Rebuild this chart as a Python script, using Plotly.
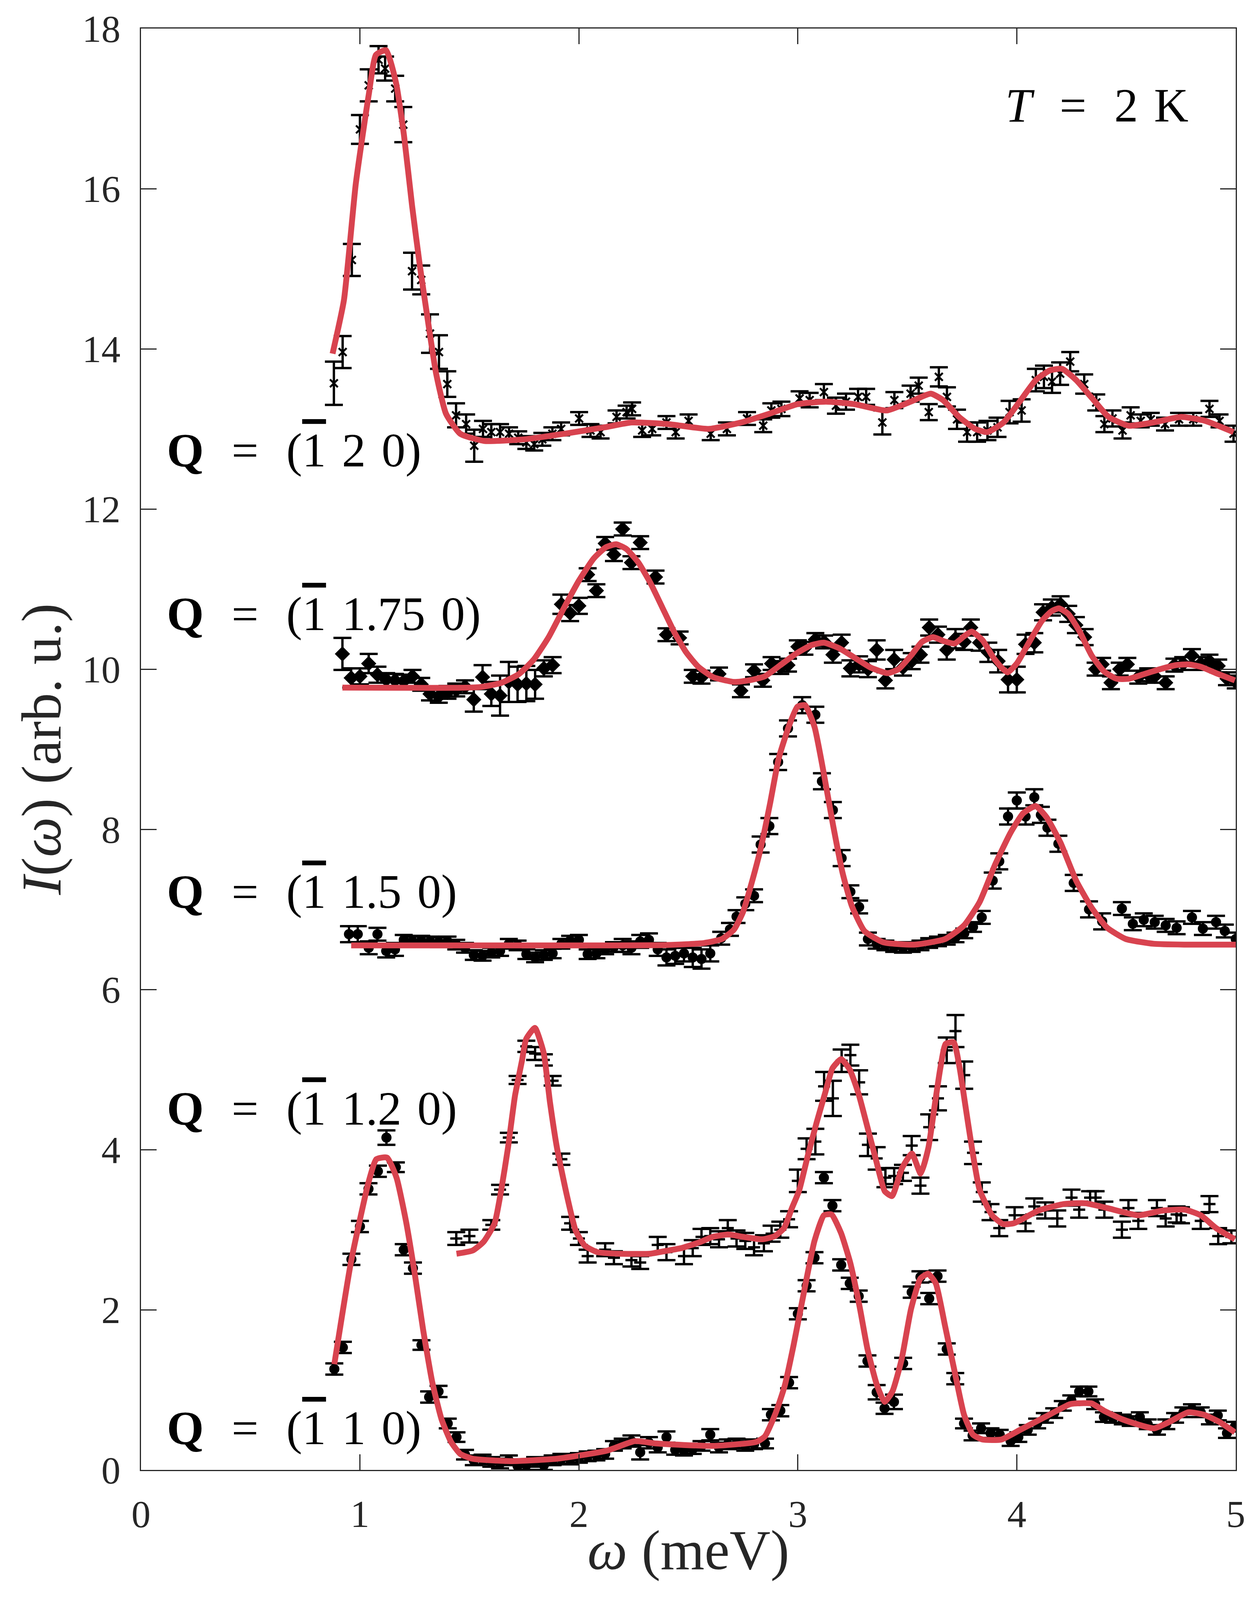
import plotly.graph_objects as go

# (omega meV, intensity, error)
q20_pts = [
    (0.881, 13.57, 0.27), (0.921, 13.96, 0.20), (0.963, 15.11, 0.20), (1.000, 16.74, 0.18),
    (1.040, 17.29, 0.20), (1.085, 17.61, 0.17), (1.115, 17.50, 0.15), (1.161, 17.25, 0.16),
    (1.198, 16.80, 0.22), (1.238, 14.97, 0.23), (1.280, 14.86, 0.18), (1.320, 14.19, 0.24),
    (1.361, 13.96, 0.21), (1.399, 13.56, 0.16), (1.439, 13.17, 0.15), (1.485, 13.06, 0.12),
    (1.522, 12.79, 0.20), (1.562, 13.00, 0.10), (1.600, 12.96, 0.10), (1.640, 12.96, 0.10),
    (1.681, 12.94, 0.08), (1.723, 12.89, 0.08), (1.760, 12.83, 0.08), (1.796, 12.81, 0.08),
    (1.833, 12.87, 0.08), (1.879, 12.94, 0.08), (1.919, 13.00, 0.08), (2.001, 13.13, 0.08),
    (2.053, 12.98, 0.08), (2.099, 12.96, 0.08), (2.172, 13.15, 0.08), (2.218, 13.21, 0.08),
    (2.243, 13.25, 0.08), (2.289, 12.98, 0.08), (2.335, 13.00, 0.08), (2.400, 13.08, 0.08),
    (2.442, 12.96, 0.08), (2.501, 13.10, 0.08), (2.602, 12.94, 0.08), (2.676, 13.00, 0.08),
    (2.768, 13.13, 0.08), (2.842, 13.04, 0.08), (2.879, 13.23, 0.09), (2.925, 13.25, 0.09),
    (3.008, 13.38, 0.09), (3.054, 13.36, 0.09), (3.119, 13.46, 0.10), (3.174, 13.29, 0.10),
    (3.220, 13.34, 0.10), (3.275, 13.40, 0.10), (3.312, 13.40, 0.10), (3.386, 13.08, 0.15),
    (3.441, 13.36, 0.10), (3.515, 13.44, 0.10), (3.552, 13.54, 0.10), (3.598, 13.21, 0.10),
    (3.644, 13.65, 0.12), (3.681, 13.40, 0.12), (3.727, 13.12, 0.12), (3.773, 12.96, 0.12),
    (3.819, 12.96, 0.12), (3.866, 12.98, 0.12), (3.912, 13.02, 0.12), (3.967, 13.21, 0.14),
    (4.022, 13.23, 0.14), (4.087, 13.61, 0.14), (4.124, 13.65, 0.14), (4.161, 13.59, 0.14),
    (4.198, 13.69, 0.14), (4.244, 13.84, 0.12), (4.308, 13.56, 0.12), (4.363, 13.33, 0.10),
    (4.400, 13.06, 0.10), (4.437, 13.13, 0.10), (4.483, 12.98, 0.10), (4.520, 13.17, 0.10),
    (4.566, 13.10, 0.08), (4.612, 13.12, 0.08), (4.677, 13.06, 0.08), (4.741, 13.12, 0.08),
    (4.806, 13.12, 0.08), (4.880, 13.25, 0.10), (4.926, 13.10, 0.08), (4.990, 12.94, 0.10),
]
q20_fit = [
    (0.875, 13.94), (0.927, 14.61), (0.981, 16.06), (1.040, 17.17), (1.073, 17.67), (1.119, 17.73),
    (1.165, 17.32), (1.201, 16.67), (1.238, 15.79), (1.274, 15.03), (1.311, 14.34), (1.348, 13.69),
    (1.393, 13.19), (1.458, 12.94), (1.567, 12.85), (1.751, 12.87), (1.934, 12.94), (2.117, 13.02),
    (2.241, 13.08), (2.409, 13.06), (2.593, 13.00), (2.741, 13.08), (2.870, 13.19), (3.000, 13.31),
    (3.128, 13.34), (3.257, 13.31), (3.405, 13.23), (3.515, 13.34), (3.607, 13.44), (3.663, 13.36),
    (3.736, 13.15), (3.810, 13.00), (3.866, 12.96), (3.939, 13.08), (4.013, 13.34), (4.087, 13.61),
    (4.151, 13.73), (4.207, 13.75), (4.271, 13.61), (4.345, 13.38), (4.419, 13.15), (4.511, 13.04),
    (4.622, 13.08), (4.751, 13.15), (4.861, 13.10), (4.990, 12.96),
]

q175_pts = [
    (0.92, 10.19, 0.20), (0.96, 9.89, 0.12), (1.00, 9.91, 0.10), (1.04, 10.07, 0.12),
    (1.08, 9.93, 0.10), (1.12, 9.87, 0.08), (1.16, 9.86, 0.08), (1.20, 9.85, 0.08),
    (1.24, 9.91, 0.08), (1.28, 9.81, 0.08), (1.32, 9.69, 0.08), (1.36, 9.66, 0.08),
    (1.40, 9.71, 0.08), (1.44, 9.74, 0.08), (1.48, 9.78, 0.08), (1.52, 9.62, 0.15),
    (1.56, 9.90, 0.15), (1.60, 9.69, 0.15), (1.64, 9.67, 0.25), (1.68, 9.84, 0.25),
    (1.72, 9.81, 0.22), (1.76, 9.82, 0.22), (1.80, 9.81, 0.18), (1.84, 10.01, 0.10),
    (1.88, 10.05, 0.10), (1.92, 10.81, 0.12), (1.96, 10.70, 0.10), (2.00, 10.79, 0.10),
    (2.04, 11.18, 0.08), (2.08, 10.98, 0.08), (2.12, 11.57, 0.08), (2.16, 11.43, 0.08),
    (2.20, 11.75, 0.08), (2.24, 11.33, 0.08), (2.28, 11.58, 0.08), (2.35, 11.15, 0.08),
    (2.40, 10.43, 0.08), (2.46, 10.39, 0.08), (2.52, 9.91, 0.08), (2.56, 9.90, 0.08),
    (2.64, 9.94, 0.08), (2.74, 9.73, 0.08), (2.80, 9.98, 0.08), (2.84, 9.86, 0.08),
    (2.88, 10.07, 0.08), (2.92, 10.02, 0.08), (2.955, 10.05, 0.08), (3.00, 10.28, 0.08),
    (3.03, 10.26, 0.08), (3.08, 10.37, 0.08), (3.12, 10.34, 0.08), (3.16, 10.18, 0.10),
    (3.20, 10.33, 0.10), (3.24, 10.01, 0.10), (3.28, 10.06, 0.10), (3.32, 10.00, 0.10),
    (3.36, 10.24, 0.12), (3.40, 9.86, 0.10), (3.44, 10.12, 0.12), (3.48, 10.02, 0.10),
    (3.52, 10.10, 0.10), (3.56, 10.18, 0.10), (3.60, 10.52, 0.10), (3.64, 10.43, 0.10),
    (3.68, 10.24, 0.12), (3.72, 10.38, 0.12), (3.76, 10.34, 0.10), (3.79, 10.52, 0.10),
    (3.83, 10.33, 0.10), (3.87, 10.21, 0.12), (3.915, 10.10, 0.14), (3.96, 9.87, 0.16),
    (4.00, 9.87, 0.16), (4.04, 10.31, 0.12), (4.08, 10.33, 0.12), (4.12, 10.71, 0.10),
    (4.16, 10.77, 0.10), (4.20, 10.81, 0.10), (4.235, 10.69, 0.10), (4.27, 10.55, 0.10),
    (4.31, 10.40, 0.10), (4.36, 10.00, 0.08), (4.39, 10.06, 0.08), (4.43, 9.83, 0.08),
    (4.47, 10.00, 0.08), (4.505, 10.06, 0.08), (4.555, 9.90, 0.08), (4.60, 9.93, 0.08),
    (4.63, 9.91, 0.08), (4.68, 9.83, 0.08), (4.72, 10.05, 0.08), (4.76, 10.07, 0.08),
    (4.80, 10.17, 0.08), (4.84, 10.07, 0.08), (4.88, 10.10, 0.08), (4.92, 10.04, 0.08),
    (4.96, 9.88, 0.08), (5.00, 9.84, 0.08),
]
q175_fit = [
    (0.92, 9.77), (1.20, 9.767), (1.45, 9.767), (1.548, 9.776), (1.644, 9.827), (1.726, 9.939),
    (1.794, 10.12), (1.862, 10.40), (1.931, 10.76), (1.999, 11.10), (2.067, 11.38), (2.122, 11.52),
    (2.170, 11.56), (2.217, 11.50), (2.272, 11.33), (2.326, 11.08), (2.381, 10.77), (2.436, 10.46),
    (2.490, 10.21), (2.545, 10.03), (2.613, 9.90), (2.709, 9.84), (2.777, 9.86), (2.849, 9.91),
    (2.920, 10.05), (2.990, 10.19), (3.062, 10.30), (3.119, 10.33), (3.190, 10.26), (3.261, 10.14),
    (3.332, 10.02), (3.410, 9.95), (3.460, 10.00), (3.517, 10.17), (3.567, 10.34), (3.617, 10.40),
    (3.666, 10.35), (3.716, 10.32), (3.759, 10.41), (3.794, 10.47), (3.844, 10.36), (3.894, 10.14),
    (3.930, 10.02), (3.958, 9.96), (4.000, 10.07), (4.057, 10.34), (4.114, 10.60), (4.157, 10.72),
    (4.192, 10.76), (4.235, 10.69), (4.285, 10.48), (4.342, 10.17), (4.399, 9.97), (4.456, 9.88),
    (4.512, 9.88), (4.583, 9.94), (4.655, 10.00), (4.726, 10.05), (4.783, 10.06), (4.840, 10.03),
    (4.910, 9.95), (4.996, 9.86),
]

q15_pts = [
    (0.95, 6.69, 0.10), (0.99, 6.69, 0.10), (1.04, 6.52, 0.08), (1.08, 6.69, 0.08),
    (1.12, 6.48, 0.08), (1.16, 6.50, 0.08), (1.20, 6.62, 0.06), (1.24, 6.60, 0.06),
    (1.28, 6.61, 0.06), (1.32, 6.60, 0.06), (1.36, 6.59, 0.06), (1.40, 6.60, 0.06),
    (1.44, 6.56, 0.06), (1.48, 6.52, 0.06), (1.52, 6.43, 0.06), (1.56, 6.42, 0.06),
    (1.60, 6.46, 0.06), (1.64, 6.48, 0.06), (1.68, 6.57, 0.06), (1.72, 6.55, 0.06),
    (1.76, 6.44, 0.06), (1.80, 6.40, 0.06), (1.84, 6.43, 0.06), (1.88, 6.45, 0.06),
    (1.92, 6.57, 0.06), (1.96, 6.61, 0.06), (2.00, 6.62, 0.06), (2.04, 6.44, 0.06),
    (2.08, 6.45, 0.06), (2.12, 6.50, 0.06), (2.16, 6.53, 0.06), (2.20, 6.55, 0.08),
    (2.24, 6.52, 0.08), (2.28, 6.60, 0.08), (2.32, 6.62, 0.08), (2.36, 6.50, 0.08),
    (2.40, 6.40, 0.10), (2.44, 6.42, 0.10), (2.48, 6.45, 0.10), (2.52, 6.40, 0.12),
    (2.56, 6.38, 0.12), (2.60, 6.45, 0.10), (2.65, 6.64, 0.08), (2.69, 6.75, 0.08),
    (2.72, 6.91, 0.08), (2.76, 7.07, 0.08), (2.80, 7.17, 0.08), (2.83, 7.81, 0.10),
    (2.87, 8.04, 0.10), (2.91, 8.84, 0.10), (2.955, 9.26, 0.10), (3.02, 9.55, 0.10),
    (3.08, 9.43, 0.10), (3.11, 8.60, 0.10), (3.16, 8.24, 0.10), (3.20, 7.64, 0.10),
    (3.24, 7.22, 0.08), (3.28, 7.03, 0.08), (3.32, 6.63, 0.08), (3.36, 6.57, 0.06),
    (3.40, 6.55, 0.06), (3.44, 6.53, 0.06), (3.48, 6.52, 0.06), (3.52, 6.53, 0.06),
    (3.56, 6.55, 0.06), (3.60, 6.58, 0.06), (3.64, 6.60, 0.06), (3.68, 6.62, 0.06),
    (3.72, 6.65, 0.06), (3.76, 6.70, 0.06), (3.80, 6.78, 0.06), (3.84, 6.90, 0.08),
    (3.89, 7.36, 0.10), (3.92, 7.60, 0.10), (3.96, 8.16, 0.10), (4.00, 8.36, 0.10),
    (4.04, 8.16, 0.10), (4.08, 8.40, 0.10), (4.11, 8.18, 0.10), (4.14, 8.02, 0.10),
    (4.19, 7.82, 0.10), (4.26, 7.33, 0.10), (4.33, 7.00, 0.10), (4.39, 6.85, 0.10),
    (4.48, 7.01, 0.08), (4.53, 6.82, 0.08), (4.58, 6.87, 0.08), (4.63, 6.84, 0.08),
    (4.68, 6.80, 0.08), (4.73, 6.77, 0.08), (4.80, 6.90, 0.08), (4.85, 6.76, 0.08),
    (4.91, 6.84, 0.08), (4.95, 6.73, 0.08), (5.00, 6.63, 0.08),
]
q15_fit = [
    (0.96, 6.55), (1.50, 6.55), (2.00, 6.55), (2.40, 6.555), (2.572, 6.58), (2.654, 6.63),
    (2.709, 6.75), (2.750, 6.97), (2.790, 7.34), (2.832, 7.78), (2.873, 8.32), (2.913, 8.89),
    (2.962, 9.31), (2.998, 9.53), (3.033, 9.55), (3.076, 9.28), (3.119, 8.69), (3.161, 8.05),
    (3.204, 7.46), (3.247, 7.04), (3.304, 6.73), (3.389, 6.59), (3.531, 6.56), (3.673, 6.63),
    (3.759, 6.80), (3.830, 7.09), (3.901, 7.56), (3.972, 7.96), (4.029, 8.20), (4.086, 8.29),
    (4.136, 8.15), (4.200, 7.83), (4.271, 7.36), (4.342, 7.02), (4.413, 6.77), (4.498, 6.63),
    (4.626, 6.57), (4.768, 6.56), (5.000, 6.56),
]

q12_pts = [
    (1.44, 2.89, 0.08), (1.50, 2.92, 0.08), (1.60, 3.06, 0.06), (1.64, 3.50, 0.06),
    (1.68, 4.15, 0.06), (1.72, 4.87, 0.05), (1.76, 5.29, 0.07), (1.80, 5.20, 0.08),
    (1.84, 5.12, 0.07), (1.88, 4.86, 0.06), (1.92, 3.88, 0.07), (1.96, 3.08, 0.08),
    (2.00, 2.89, 0.08), (2.04, 2.67, 0.08), (2.12, 2.75, 0.08), (2.16, 2.65, 0.08),
    (2.24, 2.62, 0.08), (2.28, 2.59, 0.08), (2.36, 2.81, 0.10), (2.40, 2.72, 0.10),
    (2.48, 2.67, 0.10), (2.52, 2.77, 0.10), (2.56, 2.91, 0.10), (2.60, 2.92, 0.10),
    (2.64, 2.88, 0.10), (2.68, 3.02, 0.10), (2.72, 2.89, 0.10), (2.76, 2.86, 0.10),
    (2.80, 2.78, 0.10), (2.845, 2.83, 0.10), (2.88, 2.95, 0.10), (2.92, 3.00, 0.10),
    (2.96, 3.13, 0.10), (3.00, 3.61, 0.14), (3.04, 4.01, 0.13), (3.08, 4.10, 0.16),
    (3.12, 4.79, 0.18), (3.16, 4.64, 0.22), (3.20, 5.11, 0.14), (3.24, 5.18, 0.13),
    (3.28, 4.84, 0.15), (3.32, 4.06, 0.14), (3.36, 3.89, 0.14), (3.40, 3.65, 0.12),
    (3.44, 3.67, 0.10), (3.48, 3.71, 0.10), (3.52, 4.05, 0.12), (3.56, 3.55, 0.10),
    (3.60, 4.28, 0.16), (3.64, 4.64, 0.15), (3.68, 5.24, 0.16), (3.72, 5.48, 0.20),
    (3.76, 4.93, 0.17), (3.80, 3.96, 0.14), (3.84, 3.47, 0.12), (3.88, 3.22, 0.10),
    (3.92, 3.02, 0.10), (3.99, 3.18, 0.10), (4.04, 3.08, 0.10), (4.08, 3.29, 0.10),
    (4.13, 3.24, 0.10), (4.185, 3.14, 0.10), (4.25, 3.40, 0.10), (4.285, 3.25, 0.10),
    (4.335, 3.40, 0.08), (4.36, 3.40, 0.08), (4.40, 3.25, 0.10), (4.48, 3.00, 0.10),
    (4.51, 3.27, 0.10), (4.555, 3.11, 0.10), (4.64, 3.27, 0.10), (4.68, 3.14, 0.10),
    (4.73, 3.19, 0.10), (4.75, 3.18, 0.10), (4.84, 3.11, 0.10), (4.88, 3.32, 0.10),
    (4.92, 2.92, 0.10), (4.98, 2.91, 0.08),
]
q12_fit = [
    (1.441, 2.70), (1.515, 2.74), (1.565, 2.85), (1.615, 3.08), (1.645, 3.49), (1.676, 4.02),
    (1.708, 4.67), (1.740, 5.11), (1.759, 5.38), (1.799, 5.52), (1.839, 5.21), (1.868, 4.59),
    (1.900, 4.02), (1.945, 3.43), (1.985, 2.99), (2.027, 2.80), (2.084, 2.72), (2.184, 2.70),
    (2.326, 2.70), (2.397, 2.735), (2.468, 2.77), (2.553, 2.845), (2.610, 2.91), (2.681, 2.94),
    (2.752, 2.91), (2.838, 2.88), (2.895, 2.92), (2.937, 3.02), (2.973, 3.27), (3.006, 3.49),
    (3.046, 3.93), (3.086, 4.34), (3.126, 4.72), (3.158, 5.015), (3.198, 5.13), (3.237, 5.00),
    (3.277, 4.70), (3.317, 4.29), (3.357, 3.87), (3.397, 3.48), (3.430, 3.42), (3.476, 3.77),
    (3.521, 3.95), (3.561, 3.70), (3.596, 4.02), (3.627, 4.59), (3.651, 5.02), (3.675, 5.32),
    (3.712, 5.34), (3.739, 5.02), (3.763, 4.59), (3.795, 4.02), (3.830, 3.50), (3.887, 3.18),
    (3.937, 3.07), (3.986, 3.08), (4.100, 3.24), (4.214, 3.32), (4.313, 3.33), (4.413, 3.27),
    (4.555, 3.18), (4.669, 3.24), (4.768, 3.25), (4.840, 3.18), (4.910, 3.02), (4.996, 2.88),
]

q10_pts = [
    (0.883, 1.26, 0.07), (0.922, 1.53, 0.07), (0.961, 2.63, 0.07), (1.000, 3.04, 0.07),
    (1.039, 3.51, 0.07), (1.082, 3.73, 0.07), (1.121, 4.15, 0.09), (1.164, 3.78, 0.06),
    (1.200, 2.75, 0.07), (1.242, 2.52, 0.07), (1.281, 1.56, 0.06), (1.316, 0.91, 0.07),
    (1.359, 0.98, 0.07), (1.401, 0.58, 0.06), (1.441, 0.41, 0.06), (1.480, 0.19, 0.06),
    (1.52, 0.12, 0.06), (1.56, 0.13, 0.06), (1.60, 0.10, 0.06), (1.64, 0.08, 0.06),
    (1.68, 0.12, 0.06), (1.72, 0.05, 0.06), (1.76, 0.06, 0.06), (1.80, 0.10, 0.06),
    (1.84, 0.06, 0.06), (1.88, 0.12, 0.06), (1.92, 0.14, 0.06), (1.96, 0.13, 0.06),
    (2.00, 0.15, 0.06), (2.04, 0.17, 0.06), (2.08, 0.18, 0.06), (2.12, 0.20, 0.06),
    (2.16, 0.30, 0.06), (2.20, 0.33, 0.06), (2.24, 0.36, 0.07), (2.28, 0.22, 0.09),
    (2.32, 0.34, 0.07), (2.36, 0.28, 0.06), (2.40, 0.41, 0.07), (2.44, 0.25, 0.06),
    (2.48, 0.24, 0.06), (2.52, 0.26, 0.06), (2.56, 0.30, 0.06), (2.60, 0.44, 0.07),
    (2.64, 0.28, 0.06), (2.68, 0.32, 0.06), (2.72, 0.33, 0.06), (2.76, 0.30, 0.06),
    (2.80, 0.32, 0.06), (2.85, 0.33, 0.06), (2.877, 0.69, 0.07), (2.92, 0.74, 0.07),
    (2.96, 1.09, 0.07), (3.00, 1.95, 0.07), (3.04, 2.30, 0.07), (3.076, 2.65, 0.07),
    (3.119, 3.65, 0.07), (3.158, 3.30, 0.07), (3.198, 2.56, 0.07), (3.237, 2.33, 0.07),
    (3.278, 2.17, 0.07), (3.318, 1.36, 0.07), (3.36, 0.97, 0.09), (3.396, 0.77, 0.07),
    (3.439, 0.85, 0.09), (3.481, 1.33, 0.07), (3.52, 2.22, 0.07), (3.56, 2.41, 0.07),
    (3.60, 2.14, 0.07), (3.638, 2.42, 0.07), (3.68, 1.51, 0.07), (3.719, 1.14, 0.07),
    (3.759, 0.58, 0.06), (3.798, 0.43, 0.06), (3.837, 0.52, 0.06), (3.88, 0.46, 0.06),
    (3.922, 0.44, 0.06), (3.972, 0.36, 0.06), (4.007, 0.41, 0.06), (4.05, 0.50, 0.06),
    (4.093, 0.58, 0.06), (4.128, 0.65, 0.06), (4.171, 0.71, 0.06), (4.21, 0.80, 0.06),
    (4.249, 0.87, 0.06), (4.285, 0.98, 0.06), (4.327, 0.98, 0.06), (4.358, 0.82, 0.06),
    (4.398, 0.66, 0.06), (4.44, 0.65, 0.06), (4.484, 0.63, 0.06), (4.52, 0.61, 0.06),
    (4.562, 0.66, 0.06), (4.598, 0.57, 0.06), (4.64, 0.50, 0.06), (4.683, 0.57, 0.06),
    (4.723, 0.65, 0.06), (4.761, 0.72, 0.06), (4.80, 0.76, 0.06), (4.84, 0.72, 0.06),
    (4.882, 0.63, 0.06), (4.918, 0.68, 0.06), (4.96, 0.46, 0.06), (4.996, 0.54, 0.06),
]
q10_fit = [
    (0.883, 1.32), (0.960, 2.61), (1.039, 3.59), (1.075, 3.88), (1.124, 3.90), (1.167, 3.65),
    (1.210, 3.11), (1.252, 2.42), (1.288, 1.76), (1.330, 1.10), (1.373, 0.63), (1.416, 0.35),
    (1.458, 0.20), (1.515, 0.14), (1.686, 0.11), (1.900, 0.14), (2.127, 0.24), (2.255, 0.36),
    (2.354, 0.33), (2.610, 0.30), (2.810, 0.35), (2.850, 0.42), (2.900, 0.72), (2.940, 1.05),
    (2.980, 1.55), (3.040, 2.39), (3.076, 2.86), (3.119, 3.18), (3.154, 3.19), (3.197, 2.96),
    (3.240, 2.58), (3.282, 2.04), (3.318, 1.51), (3.360, 1.07), (3.396, 0.85), (3.432, 0.98),
    (3.474, 1.38), (3.517, 2.01), (3.560, 2.39), (3.595, 2.45), (3.630, 2.33), (3.673, 1.79),
    (3.716, 1.23), (3.759, 0.69), (3.800, 0.44), (3.844, 0.38), (3.930, 0.38), (4.015, 0.50),
    (4.128, 0.66), (4.242, 0.82), (4.270, 0.83), (4.342, 0.83), (4.398, 0.74), (4.484, 0.63),
    (4.626, 0.52), (4.697, 0.60), (4.783, 0.72), (4.854, 0.69), (4.925, 0.60), (4.996, 0.47),
]

q_labels = ["2 0", "1.75 0", "1.5 0", "1.2 0", "1 0"]
q_label_y = [12.73, 10.69, 7.22, 4.51, 0.52]

x_ticks = [0, 1, 2, 3, 4, 5]
y_ticks = [0, 2, 4, 6, 8, 10, 12, 14, 16, 18]

FONT = "Liberation Serif"
RED = "#D8434F"
AXIS = "#262626"
SP = "\u2004"  # a bit wider than a normal space, like TeX math spacing

# the browser only captures about 4090 px of height, so the figure is laid out to fit
W, H = 3221, 4060
M_L, M_R = 353, 65
M_T = round(65 * H / 4611)
M_B = round(346 * H / 4611)
PLOT_H = H - M_T - M_B

series = [
    (q20_pts, q20_fit, dict(symbol="x-thin", size=20, color="black", line=dict(width=5, color="black"))),
    (q175_pts, q175_fit, dict(symbol="diamond", size=30, color="black")),
    (q15_pts, q15_fit, dict(symbol="circle", size=26, color="black")),
    (q12_pts, q12_fit, dict(symbol="line-ew", size=22, color="black", line=dict(width=6, color="black"))),
    (q10_pts, q10_fit, dict(symbol="circle", size=26, color="black")),
]

fig = go.Figure()

for pts, fit, mk in series:
    w, inten, err = zip(*pts)
    fig.add_trace(go.Scatter(
        x=list(w), y=list(inten), mode="markers", marker=mk,
        error_y=dict(type="data", array=list(err), visible=True,
                     color="black", thickness=6, width=23),
        showlegend=False,
    ))
    fw, fi = zip(*fit)
    fig.add_trace(go.Scatter(
        x=list(fw), y=list(fi), mode="lines",
        line=dict(color=RED, width=15, shape="spline", smoothing=0.5),
        showlegend=False,
    ))

annotations = []
for lab, yv in zip(q_labels, q_label_y):
    text = ("<b>Q</b>" + SP + " = " + SP + "(<span style='text-decoration:overline'>1</span>"
            + SP + lab.replace(" ", SP) + ")")
    annotations.append(dict(
        x=0.114, y=yv, xref="x", yref="y", xanchor="left", yanchor="middle",
        text=text, showarrow=False,
        font=dict(family=FONT, size=122, color="black"),
    ))
annotations.append(dict(
    x=4.788, y=17.04, xref="x", yref="y", xanchor="right", yanchor="middle",
    text="<i>T</i>" + SP + " = " + SP + "2" + SP + "K", showarrow=False,
    font=dict(family=FONT, size=122, color="black"),
))
# axis titles
annotations.append(dict(
    x=0.5, y=-(M_B - 100) / PLOT_H, xref="paper", yref="paper", xanchor="center", yanchor="middle",
    text="<i>ω</i> (meV)", showarrow=False,
    font=dict(family=FONT, size=145, color=AXIS),
))
annotations.append(dict(
    x=-0.091, y=0.5, xref="paper", yref="paper", xanchor="center", yanchor="middle",
    text="<i>I</i>(<i>ω</i>) (arb. u.)", showarrow=False, textangle=-90,
    font=dict(family=FONT, size=145, color=AXIS),
))

axis_style = dict(
    showline=True, linecolor=AXIS, linewidth=3, mirror="ticks",
    ticks="inside", ticklen=40, tickwidth=3, tickcolor=AXIS,
    showgrid=False, zeroline=False,
    tickfont=dict(family=FONT, size=98, color=AXIS),
)

fig.update_layout(
    width=W, height=H,
    margin=dict(l=M_L, r=M_R, t=M_T, b=M_B),
    paper_bgcolor="white", plot_bgcolor="white",
    xaxis=dict(range=[0, 5], tickvals=x_ticks, ticklabelstandoff=25, **axis_style),
    yaxis=dict(range=[0, 18], tickvals=y_ticks, ticklabelstandoff=30, **axis_style),
    annotations=annotations,
)

fig.write_html("out.html")
